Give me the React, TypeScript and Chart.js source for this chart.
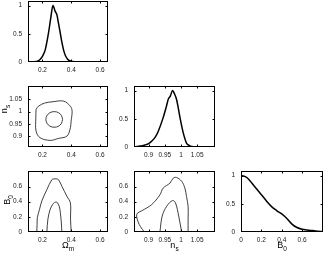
import React, { useEffect, useRef } from 'react';
import { Chart, registerables } from 'chart.js';
Chart.register(...registerables);

const W = 324, H = 253, PAD = 20;
const FONT = "'Liberation Sans', Arial, Helvetica, sans-serif";

// ---- 1D marginals ----
const omX = [0.10, 0.14, 0.17, 0.185, 0.20, 0.22, 0.242, 0.258, 0.273, 0.288, 0.301, 0.312, 0.324, 0.335, 0.347, 0.36, 0.375, 0.39, 0.41, 0.45, 0.5, 0.655];
const omY = [0, 0.004, 0.02, 0.05, 0.1, 0.22, 0.51, 0.78, 1.0, 0.9, 0.83, 0.68, 0.51, 0.35, 0.21, 0.11, 0.05, 0.022, 0.008, 0.002, 0, 0];

const nsX = [0.855, 0.87, 0.889, 0.90, 0.909, 0.92, 0.93, 0.945, 0.955, 0.961, 0.967, 0.974, 0.98, 0.986, 0.992, 0.997, 1.007, 1.017, 1.025, 1.033, 1.05, 1.105];
const nsY = [0, 0.012, 0.036, 0.06, 0.1, 0.17, 0.28, 0.52, 0.72, 0.85, 0.9, 1.0, 0.94, 0.85, 0.68, 0.52, 0.25, 0.07, 0.03, 0.01, 0.003, 0];

const b0X = [0, 0.03, 0.06, 0.1, 0.15, 0.2, 0.25, 0.3, 0.35, 0.4, 0.45, 0.5, 0.55, 0.6, 0.65, 0.7, 0.75, 0.805];
const b0Y = [1, 0.99, 0.96, 0.88, 0.77, 0.66, 0.55, 0.45, 0.38, 0.32, 0.24, 0.14, 0.08, 0.05, 0.035, 0.025, 0.015, 0.005];

// ---- 2D contours ----
const omNsOuterX = [0.156, 0.172, 0.215, 0.266, 0.347, 0.394, 0.406, 0.399, 0.394, 0.371, 0.31, 0.254, 0.184, 0.156, 0.154, 0.156];
const omNsOuterY = [1.009, 1.022, 1.035, 1.04, 1.043, 1.022, 1.002, 0.961, 0.934, 0.9, 0.89, 0.882, 0.893, 0.92, 0.975, 1.009];
const omNsInnerX = [0.34, 0.332, 0.311, 0.282, 0.253, 0.232, 0.224, 0.232, 0.253, 0.282, 0.311, 0.332, 0.34];
const omNsInnerY = [0.968, 0.984, 0.996, 1.0, 0.996, 0.984, 0.968, 0.952, 0.94, 0.936, 0.94, 0.952, 0.968];

const omB0OuterX = [0.161, 0.163, 0.165, 0.18, 0.196, 0.231, 0.265, 0.277, 0.3, 0.312, 0.336, 0.37, 0.394, 0.395, 0.4];
const omB0OuterY = [0, 0.1, 0.19, 0.3, 0.41, 0.56, 0.69, 0.7, 0.7, 0.69, 0.6, 0.47, 0.385, 0.17, 0];
const omB0InnerX = [0.231, 0.238, 0.254, 0.27, 0.284, 0.295, 0.305, 0.318, 0.324, 0.331, 0.335];
const omB0InnerY = [0, 0.17, 0.3, 0.36, 0.39, 0.395, 0.385, 0.33, 0.26, 0.13, 0];

const nsB0OuterX = [0.887, 0.875, 0.868, 0.863, 0.866, 0.879, 0.909, 0.935, 0.945, 0.966, 0.976, 0.986, 1.002, 1.012, 1.017, 1.022, 1.022, 1.022];
const nsB0OuterY = [0, 0.07, 0.13, 0.21, 0.25, 0.28, 0.36, 0.49, 0.58, 0.645, 0.71, 0.72, 0.67, 0.58, 0.47, 0.34, 0.17, 0];
const nsB0InnerX = [0.935, 0.942, 0.956, 0.974, 0.983, 0.993, 1.002];
const nsB0InnerY = [0, 0.21, 0.34, 0.415, 0.385, 0.21, 0];

// ---- axes ----
const omTicks = [0.2, 0.4, 0.6];
const nsTicks = [0.9, 0.95, 1, 1.05];
const b0Ticks = [0, 0.2, 0.4, 0.6];
const pdfTicks = [0, 0.5, 1];
const omRange = [0.1, 0.655];
const nsRange = [0.855, 1.105];
const b0Range = [0, 0.805];
const pdfRange = [0, 1.08];

const AX: Record<string, { range: number[]; ticks: number[] }> = {
  om: { range: omRange, ticks: omTicks },
  ns: { range: nsRange, ticks: nsTicks },
  b0: { range: b0Range, ticks: b0Ticks },
  pdf: { range: pdfRange, ticks: pdfTicks },
};

const COLS = [[28, 108], [134, 215], [241, 323]];
const ROWS = [[1, 62], [86, 147], [171, 232]];

const pts = (xs: number[], ys: number[]) => xs.map((x, i) => ({ x, y: ys[i] }));
const curve = (xs: number[], ys: number[]) => ({
  data: pts(xs, ys), borderColor: '#000', borderWidth: 1.5, pointRadius: 0,
  cubicInterpolationMode: 'monotone', fill: false,
});
const contour = (xs: number[], ys: number[]) => ({
  data: pts(xs, ys), borderColor: '#2a2a2a', borderWidth: 0.9, pointRadius: 0,
  tension: 0.35, fill: false,
});

const PANELS = [
  { col: 0, row: 0, x: 'om', y: 'pdf', ds: [curve(omX, omY)] },
  { col: 0, row: 1, x: 'om', y: 'ns', ds: [contour(omNsOuterX, omNsOuterY), contour(omNsInnerX, omNsInnerY)] },
  { col: 1, row: 1, x: 'ns', y: 'pdf', ds: [curve(nsX, nsY)] },
  { col: 0, row: 2, x: 'om', y: 'b0', ds: [contour(omB0OuterX, omB0OuterY), contour(omB0InnerX, omB0InnerY)] },
  { col: 1, row: 2, x: 'ns', y: 'b0', ds: [contour(nsB0OuterX, nsB0OuterY), contour(nsB0InnerX, nsB0InnerY)] },
  { col: 2, row: 2, x: 'b0', y: 'pdf', ds: [curve(b0X, b0Y)] },
];

const fmt = (v: any) => String(Math.round(Number(v) * 1000) / 1000);

const boxPlugin = {
  id: 'mbox',
  afterDatasetsDraw(chart: any) {
    const { ctx, chartArea: a, scales } = chart;
    ctx.save();
    ctx.strokeStyle = '#000';
    ctx.lineWidth = 1;
    const l = Math.round(a.left) + 0.5, r = Math.round(a.right) - 0.5;
    const t = Math.round(a.top) + 0.5, b = Math.round(a.bottom) - 0.5;
    ctx.strokeRect(l, t, r - l, b - t);
    const TL = 2;
    ctx.beginPath();
    scales.x.ticks.forEach((tk: any) => {
      const px = Math.round(scales.x.getPixelForValue(tk.value)) + 0.5;
      if (px <= l + 1 || px >= r - 1) return;
      ctx.moveTo(px, b); ctx.lineTo(px, b - TL);
      ctx.moveTo(px, t); ctx.lineTo(px, t + TL);
    });
    scales.y.ticks.forEach((tk: any) => {
      const py = Math.round(scales.y.getPixelForValue(tk.value)) + 0.5;
      if (py <= t + 1 || py >= b - 1) return;
      ctx.moveTo(l, py); ctx.lineTo(l + TL, py);
      ctx.moveTo(r, py); ctx.lineTo(r - TL, py);
    });
    ctx.stroke();
    ctx.restore();
  },
};

const YW = 24, XH = 16;

function makeChart(canvas: HTMLCanvasElement, p: any) {
  const [L, R] = COLS[p.col];
  const [T, B] = ROWS[p.row];
  const xa = AX[p.x], ya = AX[p.y];
  const tickFont = { family: FONT, size: 6.5 };
  return new Chart(canvas, {
    type: 'line',
    data: { datasets: p.ds },
    options: {
      responsive: false,
      animation: false,
      events: [],
      layout: {
        padding: {
          left: PAD + L - YW,
          top: PAD + T,
          right: PAD + W - R,
          bottom: PAD + H - B - XH,
        },
      },
      plugins: { legend: { display: false }, tooltip: { enabled: false }, title: { display: false } },
      scales: {
        x: {
          type: 'linear', min: xa.range[0], max: xa.range[1],
          afterFit: (s: any) => { s.height = XH; },
          afterBuildTicks: (s: any) => { s.ticks = xa.ticks.map((v) => ({ value: v })); },
          grid: { display: false, drawTicks: false },
          border: { display: false },
          ticks: { padding: 4, font: tickFont, color: '#1a1a1a', autoSkip: false, maxRotation: 0, callback: fmt },
        },
        y: {
          type: 'linear', min: ya.range[0], max: ya.range[1],
          afterFit: (s: any) => { s.width = YW; },
          afterBuildTicks: (s: any) => { s.ticks = ya.ticks.map((v) => ({ value: v })); },
          grid: { display: false, drawTicks: false },
          border: { display: false },
          ticks: { padding: 6, font: tickFont, color: '#1a1a1a', autoSkip: false, callback: fmt },
        },
      },
    } as any,
    plugins: [boxPlugin],
  });
}

const TITLE_FS = 9;
const BASE = (0.905 - 0.0585) * TITLE_FS;

function Title({ main, sub, x, y, rotate }: { main: string; sub: string; x: number; y: number; rotate?: boolean }) {
  return (
    <div style={{ position: 'absolute', left: x, top: y, width: 0, height: 0 }}>
      <span
        style={{
          position: 'absolute', left: 0, top: 0, whiteSpace: 'nowrap',
          fontFamily: FONT, fontSize: TITLE_FS, lineHeight: 1, color: '#000',
          transformOrigin: '0 0',
          transform: rotate ? `rotate(-90deg) translate(-50%, -${BASE}px)` : `translate(-50%, -${BASE}px)`,
        }}
      >
        {main}
        <span style={{ fontSize: 6.5, position: 'relative', top: 2.5 }}>{sub}</span>
      </span>
    </div>
  );
}

export default function App() {
  const refs = useRef<(HTMLCanvasElement | null)[]>([]);
  useEffect(() => {
    const charts = PANELS.map((p, i) => makeChart(refs.current[i] as HTMLCanvasElement, p));
    return () => charts.forEach((c) => c.destroy());
  }, []);
  return (
    <div style={{ position: 'fixed', left: 0, top: 0, width: W, height: H, overflow: 'hidden', background: '#fff' }}>
      {PANELS.map((p, i) => (
        <canvas
          key={i}
          ref={(el) => { refs.current[i] = el; }}
          width={W + 2 * PAD}
          height={H + 2 * PAD}
          style={{ position: 'absolute', left: -PAD, top: -PAD, width: W + 2 * PAD, height: H + 2 * PAD }}
        />
      ))}
      <Title main="Ω" sub="m" x={68} y={249} />
      <Title main="n" sub="s" x={174.5} y={249} />
      <Title main="B" sub="0" x={282} y={249} />
      <Title main="n" sub="s" x={7.5} y={109} rotate />
      <Title main="B" sub="0" x={10.5} y={200} rotate />
    </div>
  );
}
